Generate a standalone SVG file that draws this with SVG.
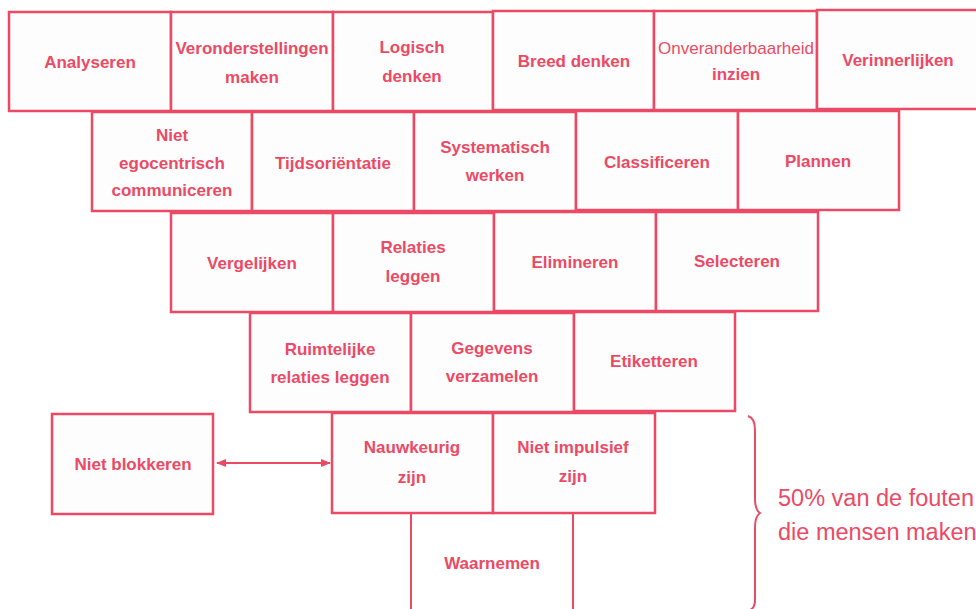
<svg xmlns="http://www.w3.org/2000/svg" width="976" height="609" viewBox="0 0 976 609">
<style>
.b{fill:#fefdfe;stroke:#ec4a64;stroke-width:2.5}
.t{font-family:"Liberation Sans",Arial,sans-serif;font-weight:bold;font-size:17px;fill:#ec4a64;text-anchor:middle;dominant-baseline:central}
.n{font-weight:normal}
.c{fill:none;stroke:#ec4a64;stroke-width:2}
.r{font-family:"Liberation Sans",Arial,sans-serif;font-size:23.5px;fill:#ec4a64}
</style>
<defs>
<marker id="ah" viewBox="0 0 10 10" refX="9" refY="5" markerWidth="5" markerHeight="5" orient="auto-start-reverse">
<path d="M0,1 L10,5 L0,9 Z" fill="#ec4a64"/>
</marker>
</defs>
<rect width="976" height="609" fill="#ffffff"/>
<g id="analyseren"><rect class="b" x="9" y="12" width="162" height="99"/><text class="t" x="90" y="62">Analyseren</text></g>
<g id="veronderstellingen"><rect class="b" x="171" y="12" width="162" height="99"/><text class="t" x="252" y="48">Veronderstellingen</text><text class="t" x="252" y="77">maken</text></g>
<g id="logisch"><rect class="b" x="333" y="12" width="160" height="99"/><text class="t" x="412" y="47">Logisch</text><text class="t" x="412" y="76">denken</text></g>
<g id="breed"><rect class="b" x="493" y="11" width="161" height="99"/><text class="t" x="574" y="61">Breed denken</text></g>
<g id="onveranderbaarheid"><rect class="b" x="654" y="11" width="163" height="99"/><text class="t n" x="736" y="48">Onveranderbaarheid</text><text class="t" x="736" y="74">inzien</text></g>
<g id="verinnerlijken"><rect class="b" x="817" y="10" width="165" height="99"/><text class="t" x="898" y="60">Verinnerlijken</text></g>

<g id="niet-egocentrisch"><rect class="b" x="92" y="112" width="160" height="99"/><text class="t" x="172" y="135">Niet</text><text class="t" x="172" y="163">egocentrisch</text><text class="t" x="172" y="190">communiceren</text></g>
<g id="tijdsorientatie"><rect class="b" x="252" y="112" width="162" height="99"/><text class="t" x="333" y="163">Tijdsoriëntatie</text></g>
<g id="systematisch"><rect class="b" x="414" y="112" width="162" height="99"/><text class="t" x="495" y="147">Systematisch</text><text class="t" x="495" y="175">werken</text></g>
<g id="classificeren"><rect class="b" x="576" y="111" width="162" height="99"/><text class="t" x="657" y="162">Classificeren</text></g>
<g id="plannen"><rect class="b" x="738" y="111" width="161" height="99"/><text class="t" x="818" y="161">Plannen</text></g>

<g id="vergelijken"><rect class="b" x="171" y="213" width="162" height="99"/><text class="t" x="252" y="263">Vergelijken</text></g>
<g id="relaties"><rect class="b" x="333" y="213" width="161" height="99"/><text class="t" x="413" y="247">Relaties</text><text class="t" x="413" y="276">leggen</text></g>
<g id="elimineren"><rect class="b" x="494" y="212" width="162" height="99"/><text class="t" x="575" y="262">Elimineren</text></g>
<g id="selecteren"><rect class="b" x="656" y="212" width="162" height="99"/><text class="t" x="737" y="261">Selecteren</text></g>

<g id="ruimtelijke"><rect class="b" x="250" y="313" width="161" height="99"/><text class="t" x="330" y="349">Ruimtelijke</text><text class="t" x="330" y="377">relaties leggen</text></g>
<g id="gegevens"><rect class="b" x="411" y="313" width="163" height="99"/><text class="t" x="492" y="348">Gegevens</text><text class="t" x="492" y="376">verzamelen</text></g>
<g id="etiketteren"><rect class="b" x="574" y="312" width="161" height="99"/><text class="t" x="654" y="361">Etiketteren</text></g>

<g id="niet-blokkeren"><rect class="b" x="52" y="414" width="161" height="100"/><text class="t" x="133" y="464">Niet blokkeren</text></g>
<g id="nauwkeurig"><rect class="b" x="332" y="413" width="161" height="100"/><text class="t" x="412" y="447">Nauwkeurig</text><text class="t" x="412" y="477">zijn</text></g>
<g id="niet-impulsief"><rect class="b" x="493" y="413" width="162" height="100"/><text class="t" x="573" y="447">Niet impulsief</text><text class="t" x="573" y="476">zijn</text></g>

<g id="waarnemen"><path class="c" d="M411,513 V612 M573,513 V612" stroke-width="2.5"/><text class="t" x="492" y="563">Waarnemen</text></g>

<g id="connectors"><line class="c" x1="217" y1="463" x2="330" y2="463" marker-start="url(#ah)" marker-end="url(#ah)"/></g>

<g id="brace"><path class="c" d="M748,416 Q755,418 755,430 V498 Q755,510 760,513 Q755,516 755,528 V600 Q755,608 750,610"/></g>
<g id="annotation"><text class="r" x="778" y="506">50% van de fouten</text><text class="r" x="778" y="540">die mensen maken</text></g>
</svg>
